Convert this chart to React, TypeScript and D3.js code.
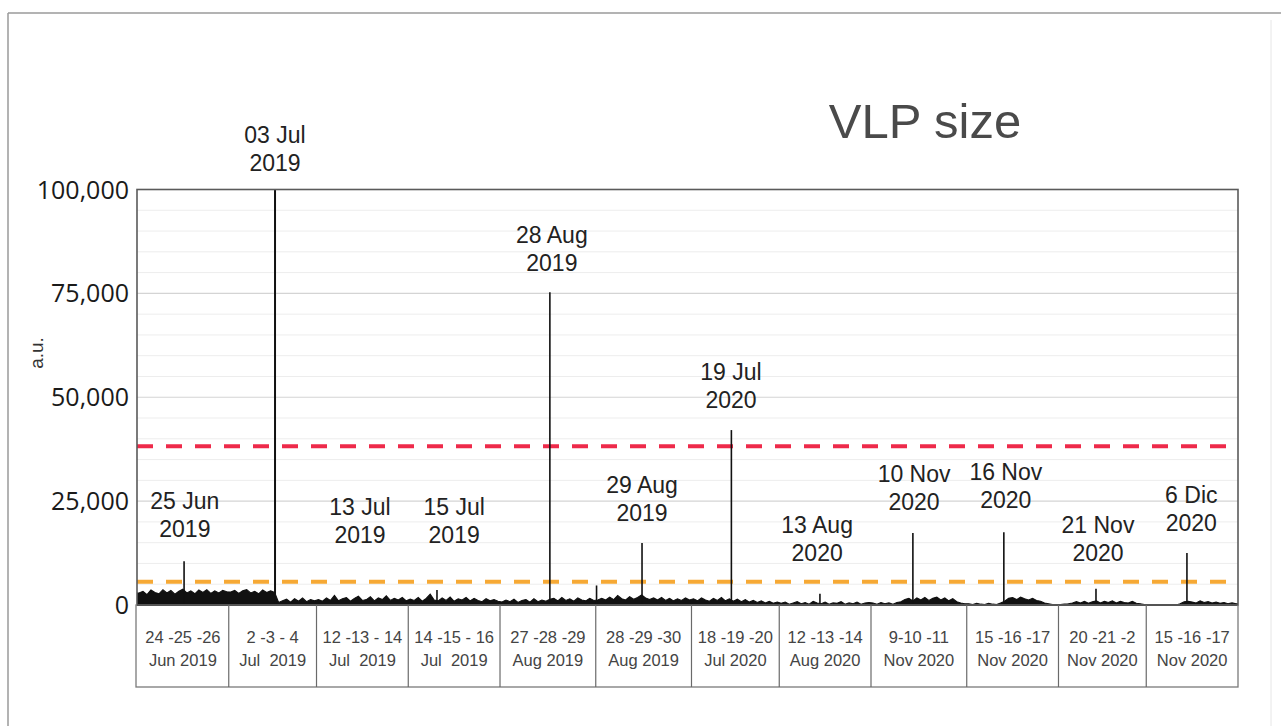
import React, { useEffect } from "react";
import * as d3 from "d3";

// ---------- DATA ----------
const title = "VLP size";
const yAxisLabel = "a.u.";
const yTicks = [0, 25000, 50000, 75000, 100000];
const redThreshold = 38200;
const orangeThreshold = 5600;

const periodLine1 = [
  "24 -25 -26", "2 -3 - 4", "12 -13 - 14", "14 -15 - 16", "27 -28 -29", "28 -29 -30",
  "18 -19 -20", "12 -13 -14", "9-10 -11", "15 -16 -17", "20 -21 -2", "15 -16 -17",
];
const periodLine2 = [
  "Jun 2019", "Jul  2019", "Jul  2019", "Jul  2019", "Aug 2019", "Aug 2019",
  "Jul 2020", "Aug 2020", "Nov 2020", "Nov 2020", "Nov 2020", "Nov 2020",
];

// background signal, one array per measurement period (a.u.)
const seg01 = [2900, 3300, 2500, 3600, 3000, 2700, 3700, 2900, 3500, 2600, 3300, 3800, 2900, 3400, 2700, 3600, 3000, 3700, 2800, 3400, 2900, 3500, 3200];
const seg02 = [3100, 3500, 2800, 3400, 3700, 2900, 3300, 2700, 3600, 3000, 3400, 3000, 600, 1000, 1400, 700, 1500, 900, 1700, 800, 1300, 1000];
const seg03 = [1300, 900, 1700, 1100, 2300, 1000, 1500, 1800, 900, 1600, 2100, 1100, 1300, 2000, 1000, 1700, 1300, 2200, 1100, 1600, 1200, 1800, 1000];
const seg04 = [1400, 1100, 1800, 900, 1600, 2600, 1200, 1000, 1700, 1100, 1900, 900, 1500, 1200, 1800, 1000, 1600, 1100, 800, 1500, 1000, 1300, 900];
const seg05 = [700, 1200, 800, 1400, 600, 1100, 1300, 700, 1500, 800, 1200, 900, 1400, 1600, 1000, 1800, 1100, 1500, 900, 1700, 1200, 1000, 1600, 1100];
const seg06 = [1200, 1600, 1200, 1900, 1300, 2300, 1500, 1200, 2000, 1400, 1800, 2400, 1700, 1300, 1700, 1200, 1800, 1100, 1600, 1000, 1500, 1100, 1700, 1200];
const seg07 = [1500, 1000, 1700, 1200, 900, 1600, 1100, 1800, 1000, 1500, 900, 1400, 800, 1300, 700, 1100, 600, 1000, 500, 900, 400, 700];
const seg08 = [400, 700, 200, 500, 800, 300, 600, 200, 900, 500, 300, 700, 200, 500, 400, 800, 200, 500, 300, 700, 200, 500, 600];
const seg09 = [500, 200, 600, 300, 500, 200, 600, 800, 1300, 1600, 1000, 1700, 1200, 1800, 1100, 1600, 1900, 1200, 1700, 1000, 1500, 800, 500, 300];
const seg10 = [300, 100, 400, 200, 100, 400, 200, 100, 500, 900, 1600, 1800, 1300, 1900, 1500, 1200, 1600, 1100, 900, 500, 300, 100, 0];
const seg11 = [100, 200, 300, 500, 800, 500, 900, 400, 800, 1000, 500, 900, 600, 1000, 500, 900, 600, 500, 900, 400, 300, 100];
const seg12 = [0, 0, 0, 0, 0, 0, 0, 0, 300, 800, 900, 700, 500, 1000, 600, 800, 500, 700, 400, 600, 300, 500, 300];

// peaks: sample index in the full series, value (a.u.)
const peakIndex = [11.8, 34.6, 75.2, 103.5, 115.2, 126.6, 149.0, 171.2, 194.5, 217.3, 240.4, 263.2];
const peakValue = [10500, 100000, 3600, 75300, 4700, 14900, 42100, 2700, 17300, 17500, 3900, 12500];

// annotations: text lines, anchor sample index, anchor value (first line)
const noteLine1 = ["25 Jun", "03 Jul", "13 Jul", "15 Jul", "28 Aug", "29 Aug", "19 Jul", "13 Aug", "10 Nov", "16 Nov", "21 Nov", "6 Dic"];
const noteLine2 = ["2019", "2019", "2019", "2019", "2019", "2019", "2020", "2020", "2020", "2020", "2020", "2020"];
const noteIndex = [12.0, 34.6, 55.9, 79.5, 104.0, 126.6, 148.9, 170.5, 194.8, 217.8, 240.9, 264.3];
const noteValue = [25000, 113100, 23600, 23600, 89000, 28900, 56100, 19300, 31500, 32000, 19300, 26500];

const segments = [seg01, seg02, seg03, seg04, seg05, seg06, seg07, seg08, seg09, seg10, seg11, seg12];

// ---------- LAYOUT ----------
const W = 1281;
const H = 726;
const plotLeft = 137;
const plotRight = 1238;
const plotTop = 189.5;
const plotBottom = 605;
const tableBottom = 687;

export default function App() {
  useEffect(() => {
    document.body.style.margin = "0";
    document.body.style.overflow = "hidden";
  }, []);

  const series: number[] = segments.flat();
  const total = series.length;
  const bounds: number[] = [0];
  segments.forEach((s) => bounds.push(bounds[bounds.length - 1] + s.length));

  const x = d3.scaleLinear().domain([0, total]).range([plotLeft, plotRight]);
  const y = d3.scaleLinear().domain([0, 100000]).range([plotBottom, plotTop]);

  const pts: [number, number][] = [[0, series[0]]];
  series.forEach((v, i) => pts.push([i + 0.5, v]));
  pts.push([total, series[total - 1]]);

  const area = d3
    .area<[number, number]>()
    .x((d) => x(d[0]))
    .y0(y(0))
    .y1((d) => y(d[1]));
  const line = d3
    .line<[number, number]>()
    .x((d) => x(d[0]))
    .y((d) => y(d[1]));

  const minor = d3.range(5000, 100000, 5000).filter((v) => v % 25000 !== 0);
  const fmt = d3.format(",");

  const sans = "'Liberation Sans', Arial, sans-serif";

  return (
    <svg
      width={W}
      height={H}
      style={{ position: "absolute", left: 0, top: 0, display: "block", background: "#fff" }}
    >
      {/* outer frame */}
      <line x1={8} y1={13} x2={W} y2={13} stroke="#9a9a9a" strokeWidth={1.5} />
      <line x1={8} y1={13} x2={8} y2={H} stroke="#9a9a9a" strokeWidth={1.5} />
      <line x1={1271} y1={20} x2={1271} y2={H} stroke="#e6e6e6" strokeWidth={1} />

      {/* title */}
      <text x={925} y={138} textAnchor="middle" fontFamily={sans} fontSize={49} fill="#4a4a4a">
        {title}
      </text>

      {/* grid */}
      {minor.map((v) => (
        <line key={"m" + v} x1={plotLeft} x2={plotRight} y1={y(v)} y2={y(v)} stroke="#ededed" strokeWidth={1} />
      ))}
      {yTicks.filter((v) => v > 0 && v < 100000).map((v) => (
        <line key={"g" + v} x1={plotLeft} x2={plotRight} y1={y(v)} y2={y(v)} stroke="#d4d4d4" strokeWidth={1.2} />
      ))}

      {/* thresholds */}
      <line x1={plotLeft} x2={plotRight} y1={y(redThreshold)} y2={y(redThreshold)} stroke="#ee2a4a" strokeWidth={4} strokeDasharray="16 13" />
      <line x1={plotLeft} x2={plotRight} y1={y(orangeThreshold)} y2={y(orangeThreshold)} stroke="#f6a935" strokeWidth={4} strokeDasharray="16 13" />

      {/* signal */}
      <path d={area(pts) || ""} fill="#111" />
      <path d={line(pts) || ""} fill="none" stroke="#111" strokeWidth={1.1} />
      {peakIndex.map((p, i) => (
        <line key={"p" + i} x1={x(p)} x2={x(p)} y1={y(0)} y2={y(peakValue[i])} stroke="#111" strokeWidth={i === 1 ? 2 : 1.6} />
      ))}

      {/* plot frame */}
      <rect x={plotLeft} y={plotTop} width={plotRight - plotLeft} height={plotBottom - plotTop} fill="none" stroke="#5a5a5a" strokeWidth={1.6} />
      <line x1={plotLeft} x2={plotRight} y1={y(0)} y2={y(0)} stroke="#111" strokeWidth={2} />

      {/* y axis */}
      {yTicks.map((v) => (
        <text key={"t" + v} x={129} y={y(v)} dy="0.36em" textAnchor="end" fontFamily="'Open Sans', sans-serif" fontSize={25} fill="#1a1a1a">
          {fmt(v)}
        </text>
      ))}
      <text
        transform={`translate(36, 353) rotate(-90)`}
        textAnchor="middle"
        dy="0.35em"
        fontFamily={sans}
        fontSize={19}
        fill="#333"
      >
        {yAxisLabel}
      </text>

      {/* period table */}
      <rect x={plotLeft - 1} y={plotBottom} width={plotRight - plotLeft + 1} height={tableBottom - plotBottom} fill="none" stroke="#7a7a7a" strokeWidth={1.3} />
      {bounds.slice(1, -1).map((b, i) => (
        <line key={"b" + i} x1={x(b)} x2={x(b)} y1={plotBottom} y2={tableBottom} stroke="#6a6a6a" strokeWidth={1.2} />
      ))}
      {periodLine1.map((t, i) => {
        const cx = x((bounds[i] + bounds[i + 1]) / 2);
        return (
          <text key={"c" + i} textAnchor="middle" fontFamily={sans} fontSize={16.5} fill="#444" style={{ whiteSpace: "pre" }}>
            <tspan x={cx} y={643}>{t}</tspan>
            <tspan x={cx} y={666}>{periodLine2[i]}</tspan>
          </text>
        );
      })}

      {/* annotations */}
      {noteLine1.map((t, i) => {
        const cx = x(noteIndex[i]);
        const cy = y(noteValue[i]);
        return (
          <text key={"n" + i} textAnchor="middle" fontFamily={sans} fontSize={23} fill="#222">
            <tspan x={cx} y={cy + 8}>{t}</tspan>
            <tspan x={cx} y={cy + 36}>{noteLine2[i]}</tspan>
          </text>
        );
      })}
    </svg>
  );
}
